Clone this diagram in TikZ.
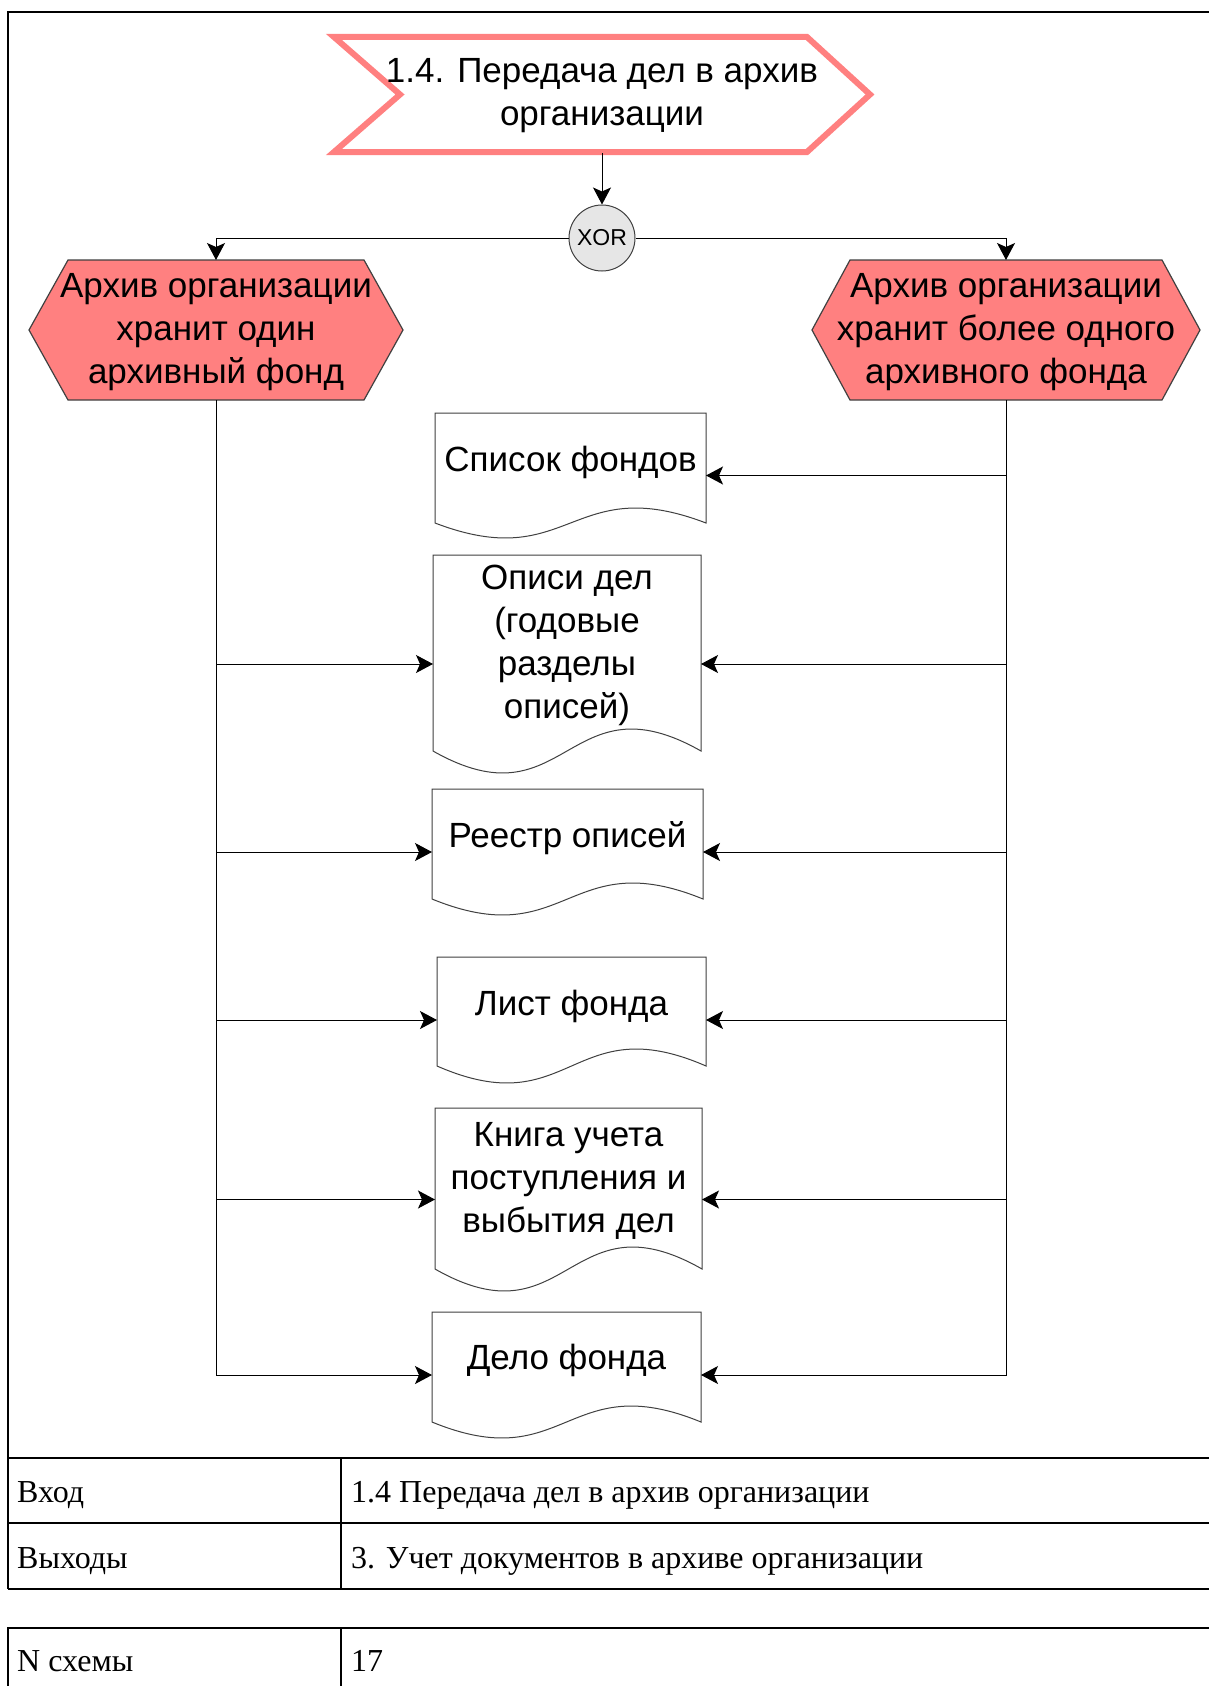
\documentclass[tikz,border=0pt]{standalone}
\usepackage{fontspec}
\setmainfont{Liberation Serif}
\newfontfamily\diagfont{Liberation Sans}
\usetikzlibrary{arrows.meta}

\definecolor{evpink}{HTML}{FF8080}
\definecolor{xorgray}{HTML}{E6E6E6}
\definecolor{edgegray}{HTML}{404040}

% document symbol: left x, right x, top y, bottom y of the sides, wave amplitude
\newcommand\docoutline[5]{%
  \draw[docline] (#1,#4) -- (#1,#3) -- (#2,#3) -- (#2,#4)
    .. controls ({(#1+#2)/2},{#4-3.46*#5}) and ({(#1+#2)/2},{#4+3.46*#5}) .. (#1,#4) -- cycle;}

\begin{document}
\begin{tikzpicture}[x=1pt,y=-1pt,
  conn/.style={draw=black, line width=1pt, -{Stealth[length=17pt,width=18pt,inset=4pt]}},
  docline/.style={draw=edgegray, line width=1pt, fill=white},
  anchorbox/.style={draw=none, inner sep=0pt, outer sep=0pt},
  bigtext/.style={font=\diagfont\fontsize{35}{43}\selectfont, align=center, inner sep=0pt, text=black},
  xorgate/.style={circle, draw=edgegray, line width=1pt, fill=xorgray, minimum size=66pt, inner sep=0pt,
    font=\diagfont\fontsize{23}{26}\selectfont},
  hexshape/.style={draw=edgegray, line width=1.2pt, fill=evpink, line join=miter},
  grid/.style={draw=black, line width=2pt},
  celltext/.style={font=\fontsize{32}{36}\selectfont, anchor=base west, inner sep=0pt}
]
\useasboundingbox (0,0) rectangle (1208,1686);
\fill[white] (0,0) rectangle (1208,1686);

% ---- process step (chevron)
\draw[evpink, line width=6pt, fill=white, line join=miter]
  (334,37) -- (807,37) -- (870,94.5) -- (807,152) -- (334,152) -- (400,94.5) -- cycle;
\node[anchorbox, minimum width=536pt, minimum height=116pt] (title) at (602,95) {};
\node[bigtext] (titletext) at (602,96) {1.4. Передача дел в архив\\организации};

% ---- XOR rule
\node[xorgate] (xor) at (602,238) {XOR};

% ---- events (hexagons)
\draw[hexshape] (68,260) -- (364,260) -- (403,330) -- (364,400) -- (68,400) -- (29,330) -- cycle;
\draw[hexshape] (850,260) -- (1162,260) -- (1200,330) -- (1162,400) -- (850,400) -- (812,330) -- cycle;
\node[anchorbox, minimum width=374pt, minimum height=140pt] (hl) at (216,330) {};
\node[anchorbox, minimum width=388pt, minimum height=140pt] (hr) at (1006,330) {};
\node[bigtext] (hltext) at (216,332) {Архив организации\\хранит один\\архивный фонд};
\node[bigtext] (hrtext) at (1006,332) {Архив организации\\хранит более одного\\архивного фонда};

% ---- documents
\docoutline{435}{706}{413}{523}{15}
\docoutline{433}{701}{555}{751}{22}
\docoutline{432}{703}{789}{899}{16}
\docoutline{437}{706}{957}{1066}{17}
\docoutline{435}{702}{1108}{1269}{22}
\docoutline{432}{701}{1312}{1422}{16}

\node[anchorbox, minimum width=271pt, minimum height=125pt] (d1) at (570.5,475.5) {};
\node[anchorbox, minimum width=268pt, minimum height=218pt] (d2) at (567,664) {};
\node[anchorbox, minimum width=271pt, minimum height=126pt] (d3) at (567.5,852) {};
\node[anchorbox, minimum width=269pt, minimum height=126pt] (d4) at (571.5,1020) {};
\node[anchorbox, minimum width=267pt, minimum height=183pt] (d5) at (568.5,1199.5) {};
\node[anchorbox, minimum width=269pt, minimum height=126pt] (d6) at (566.5,1375) {};

\node[bigtext] (d1text) at (570.5,462) {Список фондов};
\node[bigtext] (d2text) at (567,645) {Описи дел\\(годовые\\разделы\\описей)};
\node[bigtext] (d3text) at (567.5,838) {Реестр описей};
\node[bigtext] (d4text) at (571.5,1006) {Лист фонда};
\node[bigtext] (d5text) at (568.5,1181) {Книга учета\\поступления и\\выбытия дел};
\node[bigtext] (d6text) at (566.5,1360) {Дело фонда};

% ---- connectors
\draw[conn] (title.south) -- (xor.north);
\draw[conn] (xor.west) -| (hl.north);
\draw[conn] (xor.east) -| (hr.north);

\draw[conn] (hl.south) |- (d6.west);
\foreach \d in {d2,d3,d4,d5}
  \draw[conn] (hl.south |- \d.west) -- (\d.west);

\draw[conn] (hr.south) |- (d6.east);
\foreach \d in {d1,d2,d3,d4,d5}
  \draw[conn] (hr.south |- \d.east) -- (\d.east);

% ---- frame and tables
\draw[grid] (1210,12) -- (8,12) -- (8,1589);
\draw[grid] (8,1458) -- (1210,1458);
\draw[grid] (8,1523) -- (1210,1523);
\draw[grid] (8,1589) -- (1210,1589);
\draw[grid] (341,1458) -- (341,1589);
\draw[grid] (1210,1628) -- (8,1628) -- (8,1690);
\draw[grid] (341,1628) -- (341,1690);

\node[celltext] (inlabel) at (17,1502) {Вход};
\node[celltext] (invalue) at (351,1502) {1.4 Передача дел в архив организации};
\node[celltext] (outlabel) at (17,1568) {Выходы};
\node[celltext] (outvalue) at (351,1568) {3. Учет документов в архиве организации};
\node[celltext] (numlabel) at (17,1671) {N схемы};
\node[celltext] (numvalue) at (351,1671) {17};
\end{tikzpicture}
\end{document}
